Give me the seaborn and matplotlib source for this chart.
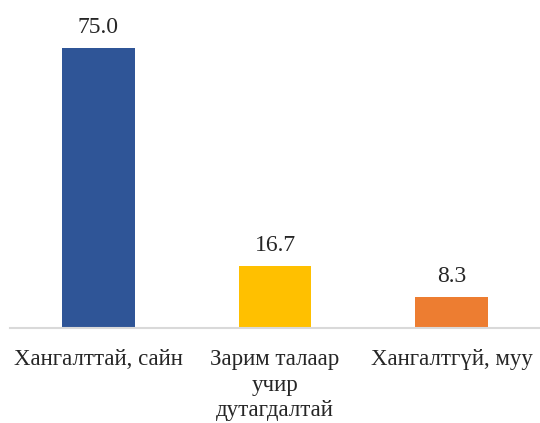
import matplotlib
matplotlib.use("Agg")
import matplotlib.pyplot as plt
import seaborn as sns
import pandas as pd

categories = ["Хангалттай, сайн", "Зарим талаар\nучир\nдутагдалтай", "Хангалтгүй, муу"]
values = [75.0, 16.7, 8.3]
colors = ["#2F5597", "#FFC000", "#ED7D31"]

sns.set_style("white")
plt.rcParams['font.family'] = ['Liberation Serif', 'DejaVu Serif']

df = pd.DataFrame({"cat": categories, "val": values})

fig = plt.figure(figsize=(5.4, 4.23), dpi=100)
ax = fig.add_axes([10 / 540, 0.2246, 1 - 10 / 540, 0.7069])

sns.barplot(x="cat", y="val", hue="cat", data=df, palette=colors, width=0.41,
            saturation=1, linewidth=0, legend=False, ax=ax)

for i, v in enumerate(values):
    ax.text(i, v + 2.6, "{0:.1f}".format(v), ha="center", va="bottom", fontsize=17)

ax.set_ylim(0, 80)
ax.set_xlim(-0.5, 2.5)
ax.set_yticks([])
ax.set_xlabel("")
ax.set_ylabel("")
for s in ["top", "left", "right"]:
    ax.spines[s].set_visible(False)
ax.spines["bottom"].set_color("#D9D9D9")
ax.spines["bottom"].set_linewidth(1.5)
ax.tick_params(axis="x", length=0, labelsize=16.5, pad=15)
for lab in ax.get_xticklabels():
    lab.set_linespacing(1.3)

fig.savefig("out.png", dpi=100)
